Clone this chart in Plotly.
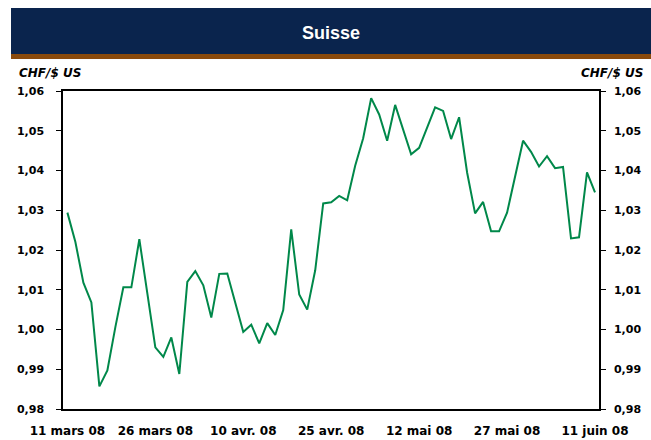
import pandas as pd
import plotly.graph_objects as go

dates = list(pd.bdate_range("2008-03-11", "2008-06-11"))
chf_usd = [
    1.0294, 1.0220, 1.0118, 1.0068, 0.9857, 0.9897, 1.0006, 1.0106, 1.0106, 1.0227,
    1.0091, 0.9955, 0.9931, 0.9980, 0.9888, 1.0120, 1.0147, 1.0111, 1.0030, 1.0140,
    1.0141, 1.0069, 0.9994, 1.0012, 0.9965, 1.0016, 0.9986, 1.0049, 1.0252, 1.0088,
    1.0050, 1.0149, 1.0317, 1.0320, 1.0336, 1.0325, 1.0412, 1.0481, 1.0582, 1.0541,
    1.0475, 1.0565, 1.0503, 1.0441, 1.0457, 1.0510, 1.0559, 1.0550, 1.0479, 1.0534,
    1.0395, 1.0292, 1.0321, 1.0247, 1.0247, 1.0294, 1.0384, 1.0475, 1.0447, 1.0410,
    1.0436, 1.0406, 1.0409, 1.0229, 1.0232, 1.0395, 1.0345,
]
tick_idx = [0, 11, 22, 33, 44, 55, 66]
tick_labels = ["11 mars 08", "26 mars 08", "10 avr. 08", "25 avr. 08",
               "12 mai 08", "27 mai 08", "11 juin 08"]
y_ticks = [0.98, 0.99, 1.00, 1.01, 1.02, 1.03, 1.04, 1.05, 1.06]

x_vals = list(range(len(chf_usd)))
hover = [d.strftime("%d/%m/%Y") for d in dates[:len(chf_usd)]]

FONT = "DejaVu Sans, sans-serif"
TFONT = "Liberation Sans, Arial, sans-serif"

fig = go.Figure()
fig.add_trace(go.Scatter(x=x_vals, y=chf_usd, mode="lines", text=hover,
                         line=dict(color="#00884A", width=2), showlegend=False))
# empty trace so the right-hand axis is drawn
fig.add_trace(go.Scatter(x=[], y=[], yaxis="y2", showlegend=False, hoverinfo="skip"))

yax = dict(range=[0.98, 1.06], tickmode="array", tickvals=y_ticks,
           tickformat=".2f", ticks="outside", ticklen=5, tickcolor="black",
           showline=True, linecolor="black", linewidth=1.5, showgrid=False,
           zeroline=False, automargin=False,
           tickfont=dict(family=FONT, size=11, weight="bold"))

fig.update_layout(
    width=651, height=440,
    margin=dict(l=63, r=52, t=91, b=31),
    paper_bgcolor="white", plot_bgcolor="white",
    separators=", ",
    font=dict(family=FONT, size=11, color="black"),
    xaxis=dict(range=[-0.55, 66.5], tickmode="array", tickvals=tick_idx,
               ticktext=tick_labels, ticks="", showline=True, linecolor="black",
               linewidth=1.5, mirror=True, showgrid=False, zeroline=False,
               automargin=False,
               tickfont=dict(family=FONT, size=12, weight="bold"),
               ticklabelstandoff=10),
    yaxis=dict(**yax, ticklabelstandoff=10),
    yaxis2=dict(**yax, overlaying="y", side="right", anchor="x",
                ticklabelstandoff=6),
)

# header banner
fig.add_shape(type="rect", xref="paper", yref="paper",
              x0=(11-63)/536, x1=1 + 60/536, y0=1 + (91-54)/318, y1=1 + (91-8)/318,
              fillcolor="#0A244D", line_width=0, layer="above")
fig.add_shape(type="rect", xref="paper", yref="paper",
              x0=(11-63)/536, x1=1 + 60/536, y0=1 + (91-59)/318, y1=1 + (91-54)/318,
              fillcolor="#8A4A0C", line_width=0, layer="above")
fig.add_annotation(text="<b>Suisse</b>", xref="paper", yref="paper",
                   x=(331-63)/536, y=1 + (91-33)/318, showarrow=False,
                   font=dict(family=TFONT, size=18, color="white"),
                   xanchor="center", yanchor="middle")
fig.add_annotation(text="<b><i>CHF/$ US</i></b>", xref="paper", yref="paper",
                   x=(17-63)/536, y=1 + (91-73)/318, showarrow=False,
                   font=dict(family=FONT, size=12, color="black"),
                   xanchor="left", yanchor="middle")
fig.add_annotation(text="<b><i>CHF/$ US</i></b>", xref="paper", yref="paper",
                   x=(645-63)/536, y=1 + (91-73)/318, showarrow=False,
                   font=dict(family=FONT, size=12, color="black"),
                   xanchor="right", yanchor="middle")

fig.write_html("out.html", config={"displayModeBar": False},
               post_script="document.body.style.margin='0px';")
